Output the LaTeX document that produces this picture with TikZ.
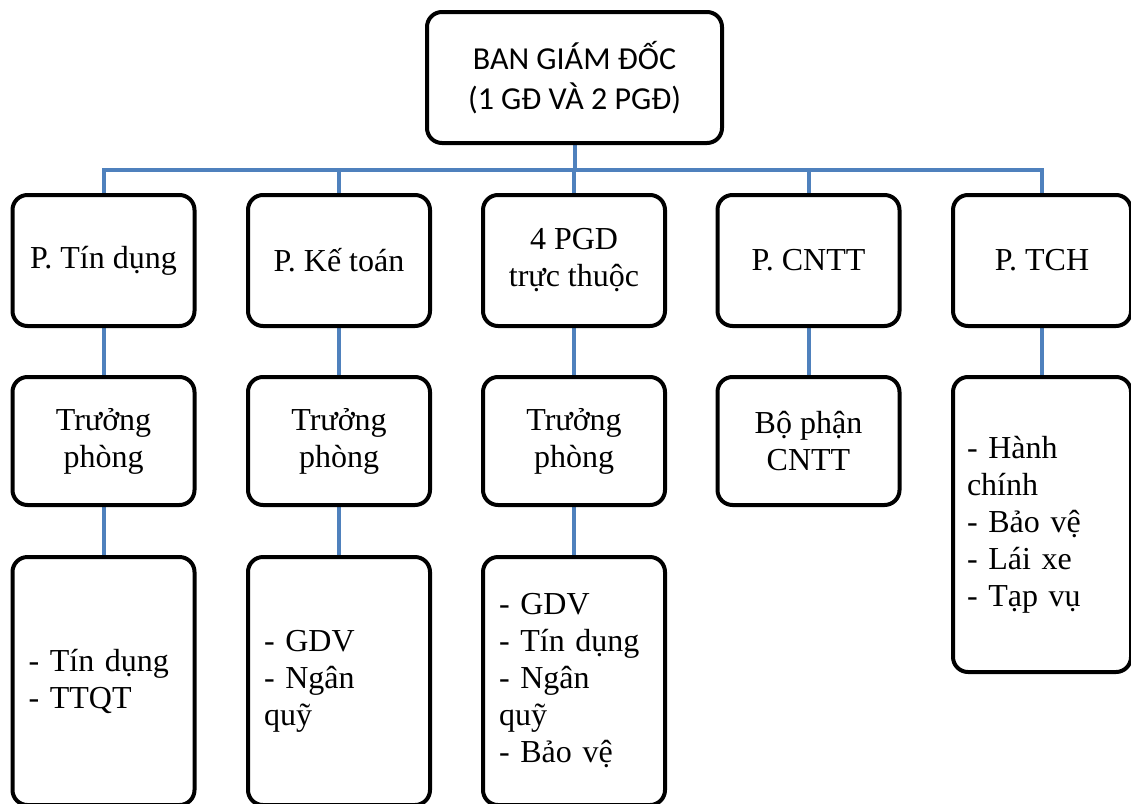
\documentclass[tikz,border=0pt]{standalone}
\usepackage{fontspec}
\setmainfont{Liberation Serif}
\newfontfamily\calibri{Carlito}
\usetikzlibrary{backgrounds}
\definecolor{conn}{RGB}{79,129,189}
\tikzset{
  box/.style={draw=black, line width=4pt, rounded corners=15pt, fill=white,
    inner sep=0pt, align=center, minimum width=182pt,
    font=\fontsize{32}{37}\selectfont},
  listbox/.style={box, text width=150pt, align=left},
  link/.style={draw=conn, line width=4pt}
}
\begin{document}
\begin{tikzpicture}[x=1pt,y=-1pt]
\useasboundingbox (0,0) rectangle (1131,803);
% top
\node[box, minimum width=295pt, minimum height=131pt,
  font=\calibri\fontsize{32}{40}\selectfont] (top) at (574.5,77.5)
  {BAN GIÁM ĐỐC\\(1 GĐ VÀ 2 PGĐ)};
% row 1
\node[box, minimum height=131pt] (a1) at (103.5,260.5) {P. Tín dụng};
\node[box, minimum height=131pt] (b1) at (339,260.5) {P. Kế toán};
\node[box, minimum height=131pt] (c1) at (574,260.5) {4 PGD\\trực thuộc};
\node[box, minimum height=131pt] (d1) at (808.5,260.5) {P. CNTT};
\node[box, minimum height=131pt, minimum width=178pt] (e1) at (1042,260.5) {P. TCH};
% row 2
\node[box, minimum height=128pt] (a2) at (103.5,441) {Trưởng\\phòng};
\node[box, minimum height=128pt] (b2) at (339,441) {Trưởng\\phòng};
\node[box, minimum height=128pt] (c2) at (574,441) {Trưởng\\phòng};
\node[box, minimum height=128pt] (d2) at (808.5,441) {Bộ phận\\CNTT};
\node[listbox, minimum height=295pt, minimum width=178pt] (e2) at (1042,524.5)
  {- Hành\\chính\\- Bảo vệ\\- Lái xe\\- Tạp vụ};
% row 3
\node[listbox, minimum height=248pt] (a3) at (103.5,681) {- Tín dụng\\- TTQT};
\node[listbox, minimum height=248pt] (b3) at (339,681) {- GDV\\- Ngân\\quỹ};
\node[listbox, minimum height=248pt] (c3) at (574,681) {- GDV\\- Tín dụng\\- Ngân\\quỹ\\- Bảo vệ};
% connectors
\begin{scope}[on background layer]
\foreach \n in {a1,b1,c1,d1,e1}
  \draw[link] (top.south) -- ++(0,25) -| (\n.north);
\draw[link] (a1) -- (a2);
\draw[link] (b1) -- (b2);
\draw[link] (c1) -- (c2);
\draw[link] (d1) -- (d2);
\draw[link] (e1) -- (e2);
\draw[link] (a2) -- (a3);
\draw[link] (b2) -- (b3);
\draw[link] (c2) -- (c3);
\end{scope}
\end{tikzpicture}
\end{document}
